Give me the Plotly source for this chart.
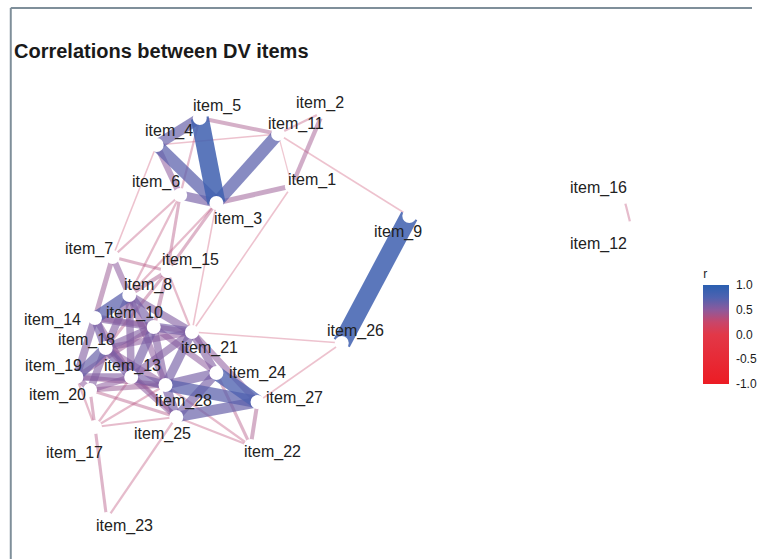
import plotly.graph_objects as go

# noeuds (coordonnees du layout) et libelles
items = ["item_%d" % i for i in range(1, 29)]
node_x = [298, 330, 221, 160, 204, 184, 115, 132, 418, 157, 284, 645, 134, 97,
          171, 637, 97, 108, 78, 92, 196, 256, 109, 221, 180, 349, 263, 169]
node_y = [186, 112, 203, 145, 118, 195, 257, 295, 216, 327, 134, 228, 377, 318,
          271, 197, 427, 348, 377, 390, 332, 446, 519, 373, 417, 343, 402, 385]

# correlations (item a, item b, r)
edge_a = [5, 9, 4, 4, 6, 11, 1, 5, 4, 2, 2, 11, 11, 5, 4,
          3, 6, 4, 6, 6, 3, 1, 3,
          26, 26,
          7, 7, 7, 15, 15, 15, 15,
          14, 14, 14, 14, 14, 14,
          8, 8, 8, 8, 8,
          10, 10, 10, 10, 10, 10,
          18, 18, 18, 18, 18, 18,
          19, 19, 19,
          13, 13, 13, 13,
          21, 21, 21,
          28, 28, 28, 28,
          24, 24, 25,
          27, 24, 25, 28,
          17, 25, 17, 17, 17, 17, 17, 20, 16]
edge_b = [3, 26, 5, 3, 3, 3, 3, 11, 11, 1, 11, 9, 1, 6, 6,
          15, 15, 7, 7, 8, 8, 21, 21,
          21, 27,
          8, 14, 15, 8, 10, 21, 18,
          8, 10, 18, 19, 13, 21,
          10, 18, 13, 21, 28,
          13, 18, 21, 28, 24, 19,
          13, 19, 20, 28, 21, 25,
          13, 20, 28,
          28, 21, 20, 25,
          28, 24, 27,
          24, 27, 25, 20,
          27, 25, 27,
          22, 22, 22, 22,
          23, 23, 20, 13, 25, 19, 28, 25, 12]
edge_r = [0.85, 0.85, 0.65, 0.7, 0.6, 0.7, 0.45, 0.4, 0.25, 0.42, 0.3, 0.25, 0.22, 0.3, 0.5,
          0.35, 0.35, 0.25, 0.3, 0.3, 0.3, 0.25, 0.25,
          0.25, 0.25,
          0.5, 0.45, 0.35, 0.4, 0.4, 0.3, 0.35,
          0.7, 0.55, 0.6, 0.55, 0.5, 0.45,
          0.6, 0.55, 0.55, 0.55, 0.5,
          0.6, 0.55, 0.6, 0.55, 0.5, 0.45,
          0.6, 0.65, 0.55, 0.5, 0.5, 0.4,
          0.55, 0.5, 0.45,
          0.6, 0.55, 0.5, 0.5,
          0.6, 0.55, 0.5,
          0.6, 0.7, 0.6, 0.45,
          0.75, 0.6, 0.65,
          0.4, 0.35, 0.3, 0.3,
          0.35, 0.3, 0.35, 0.3, 0.3, 0.3, 0.3, 0.35, 0.3]

# decalage des libelles (px)
lab_dx = [20, -3, 22, 12, 17, -24, -24, 19, -11, -19, 18, -33, 1, -42,
          23, -25, -20, -19, -23, -33, 18, 22, 18, 41, -14, 14, 37, 18]
lab_dy = [-6, -9, 16, -14, -12, -13, -8, -10, 16, -14, -10, 16, -11, 2,
          -11, -9, 26, -8, -11, 5, 16, 6, 7, 0, 17, -12, -4, 16]

echelle = [[0.0, "#ec1c24"], [0.5, "#e23848"], [0.625, "#c8466a"],
           [0.75, "#8c5a9c"], [0.875, "#4e62b0"], [1.0, "#2a5fb0"]]

W, H = 768, 559


def couleur(r):
    t = (r + 1) / 2
    for (t0, c0), (t1, c1) in zip(echelle[:-1], echelle[1:]):
        if t0 <= t <= t1:
            f = (t - t0) / (t1 - t0) if t1 > t0 else 0
            a = [int(c0[k:k + 2], 16) for k in (1, 3, 5)]
            b = [int(c1[k:k + 2], 16) for k in (1, 3, 5)]
            rgb = [round(a[k] + f * (b[k] - a[k])) for k in range(3)]
            alpha = 0.1 + 0.9 * abs(r)
            return "rgba(%d,%d,%d,%.2f)" % (rgb[0], rgb[1], rgb[2], alpha)
    return "rgba(200,200,200,0.5)"


fig = go.Figure()

# aretes, les plus fortes dessinees en dernier
ordre = sorted(range(len(edge_r)), key=lambda k: abs(edge_r[k]))
for k in ordre:
    i, j, r = edge_a[k] - 1, edge_b[k] - 1, edge_r[k]
    fig.add_trace(go.Scatter(
        x=[node_x[i], node_x[j]], y=[node_y[i], node_y[j]],
        mode="lines", line=dict(color=couleur(r), width=25 * r * r),
        hoverinfo="skip", showlegend=False))

# points blancs
fig.add_trace(go.Scatter(
    x=node_x, y=node_y, mode="markers", text=items,
    marker=dict(color="white", size=14), showlegend=False, hoverinfo="text"))

# echelle de couleur
fig.add_trace(go.Scatter(
    x=[None], y=[None], mode="markers", showlegend=False,
    marker=dict(colorscale=echelle, cmin=-1, cmax=1, color=[0], showscale=True,
                colorbar=dict(x=708 / W, xanchor="left", y=1 - 325 / H,
                              yanchor="middle", len=138, lenmode="pixels",
                              thickness=26, outlinewidth=0,
                              tickvals=[-1, -0.5, 0, 0.5, 1],
                              ticktext=["-1.0", "-0.5", "0.0", "0.5", "1.0"],
                              ticks="outside", tickcolor="white", ticklen=5,
                              tickfont=dict(size=12, color="#1a1a1a"),
                              title=dict(text="r", side="top",
                                         font=dict(size=12, color="#222222"))))))

for n in range(len(items)):
    fig.add_annotation(x=node_x[n], y=node_y[n], text=items[n], showarrow=False,
                       xshift=lab_dx[n], yshift=-lab_dy[n],
                       font=dict(size=16, color="#222222"))

fig.update_layout(
    title=dict(text="<b>Correlations between DV items</b>", x=14 / W, y=1 - 51 / H,
               xanchor="left", yanchor="middle",
               font=dict(family="Liberation Sans, Arial", size=20, color="#1a1a1a")),
    width=W, height=H,
    margin=dict(l=0, r=0, t=0, b=0),
    paper_bgcolor="white", plot_bgcolor="white",
    font=dict(family="Liberation Sans, Arial"),
    xaxis=dict(range=[0, W], visible=False),
    yaxis=dict(range=[H, 0], visible=False),
    shapes=[
        dict(type="line", xref="paper", yref="paper", x0=11 / W, x1=1,
             y0=1 - 8 / H, y1=1 - 8 / H, line=dict(color="#7f8f9a", width=2)),
        dict(type="line", xref="paper", yref="paper", x0=11 / W, x1=11 / W,
             y0=0, y1=1 - 8 / H, line=dict(color="#7f8f9a", width=2)),
    ],
)

fig.write_html(
    "out.html", config={"displayModeBar": False},
    post_script="document.body.style.margin='0px';")
